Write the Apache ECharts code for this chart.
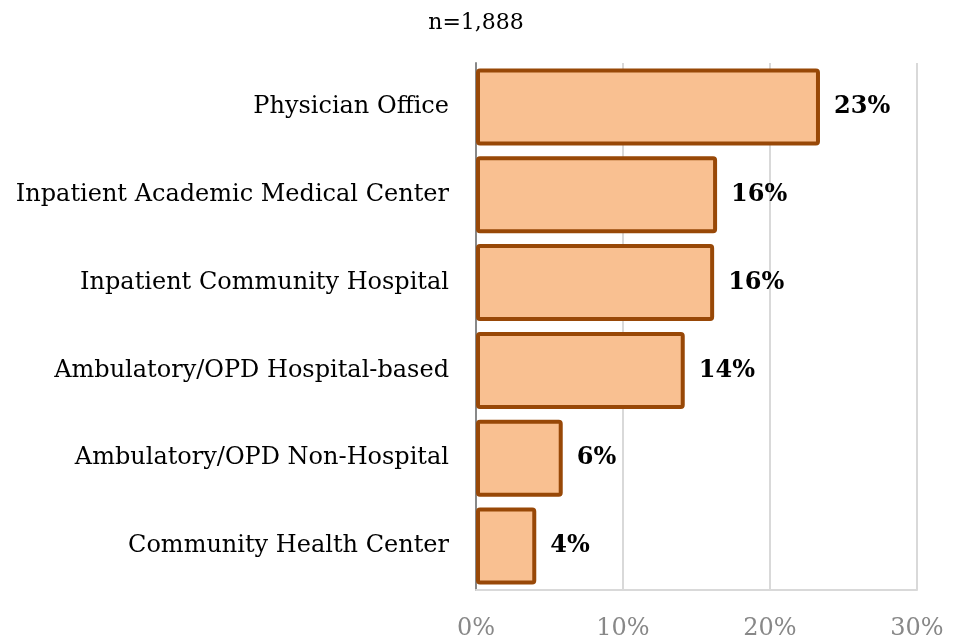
<!DOCTYPE html>
<html>
<head>
<meta charset="utf-8">
<script src="https://cdn.jsdelivr.net/npm/echarts@6/dist/echarts.min.js"></script>
<style>
  html, body { margin: 0; padding: 0; background: #fff; }
  #chart { width: 962px; height: 637px; }
</style>
</head>
<body>
<div id="chart"></div>
<script>
// categories top to bottom, values in percent
const categories = [
  'Physician Office',
  'Inpatient Academic Medical Center',
  'Inpatient Community Hospital',
  'Ambulatory/OPD Hospital-based',
  'Ambulatory/OPD Non-Hospital',
  'Community Health Center'
]
const shares = [23.4, 16.4, 16.2, 14.2, 5.9, 4.1]
const subtitle = 'n=1,888'

const font = 'DejaVu Serif'
const chart = echarts.init(document.getElementById('chart'))
chart.setOption({
  animation: false,
  title: {
    text: subtitle,
    left: 471,
    top: 7,
    textAlign: 'center',
    textStyle: {
      fontFamily: font,
      fontSize: 22,
      fontWeight: 'normal',
      color: '#000'
    }
  },
  grid: {
    left: 476,
    right: 45,
    top: 63,
    bottom: 47,
    outerBoundsMode: 'none',
    containLabel: false
  },
  xAxis: {
    type: 'value',
    min: 0,
    max: 30,
    interval: 10,
    axisLine: { show: true, lineStyle: { color: '#d9d9d9', width: 2 } },
    axisTick: { show: false },
    axisLabel: {
      formatter: '{value}%',
      fontFamily: font,
      fontSize: 24,
      color: '#888',
      margin: 27
    },
    splitLine: { lineStyle: { color: '#d9d9d9', width: 2 } }
  },
  yAxis: {
    type: 'category',
    inverse: true,
    data: categories,
    axisLine: { lineStyle: { color: '#888', width: 2 } },
    axisTick: { show: false },
    axisLabel: {
      fontFamily: font,
      fontSize: 24,
      color: '#000',
      margin: 27
    }
  },
  series: [{
    type: 'bar',
    data: shares,
    barWidth: 77,
    itemStyle: {
      color: '#f9c091',
      borderColor: '#984807',
      borderWidth: 4,
      borderRadius: 2
    },
    label: {
      show: true,
      position: 'right',
      distance: 14,
      formatter: p => Math.round(p.value) + '%',
      fontFamily: font,
      fontSize: 24,
      fontWeight: 'bold',
      color: '#000'
    }
  }]
})
</script>
</body>
</html>
